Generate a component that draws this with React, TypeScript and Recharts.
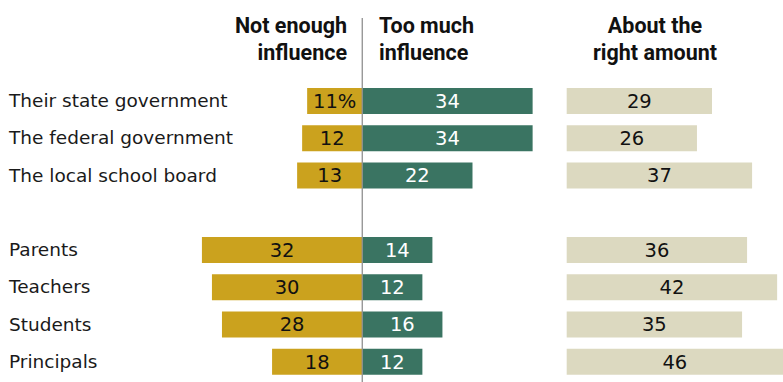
import React from "react";
import { BarChart, Bar, XAxis, YAxis, LabelList, ReferenceLine } from "recharts";

const categories = [
  "Their state government",
  "The federal government",
  "The local school board",
  "",
  "Parents",
  "Teachers",
  "Students",
  "Principals",
];
const notEnough: (number | null)[] = [11, 12, 13, null, 32, 30, 28, 18];
const tooMuch: (number | null)[] = [34, 34, 22, null, 14, 12, 16, 12];
const aboutRight: (number | null)[] = [29, 26, 37, null, 36, 42, 35, 46];

const headers = {
  notEnough: ["Not enough", "influence"],
  tooMuch: ["Too much", "influence"],
  aboutRight: ["About the", "right amount"],
};

const RIGHT_OFFSET = 40.8;

const data = categories.map((cat, i) => {
  const ne = notEnough[i];
  const tm = tooMuch[i];
  const ar = aboutRight[i];
  return {
    cat,
    ne: ne == null ? null : -ne,
    neLabel: ne == null ? "" : `${ne}${i === 0 ? "%" : ""}`,
    tm,
    spacer: tm == null ? null : RIGHT_OFFSET - tm,
    ar,
  };
});

const GOLD = "#CBA21E";
const GREEN = "#3A7462";
const BEIGE = "#DCD9C0";
const NUM_FONT = "'DejaVu Sans', Verdana, sans-serif";
const HEAD_FONT = "Roboto, 'Liberation Sans', Arial, sans-serif";

const renderCategoryTick = (props: any) => {
  const { y, payload } = props;
  return (
    <text
      key={`t-${payload.value}-${y}`}
      x={9}
      y={y}
      dy={6.5}
      textAnchor="start"
      fontFamily={NUM_FONT}
      fontSize={18.5}
      fill="#1a1a1a"
    >
      {payload.value}
    </text>
  );
};

const CenterLine = (props: any) => {
  const x = props.x1 ?? props.x;
  return <line x1={x} x2={x} y1={18} y2={382} stroke="#8f8f8f" strokeWidth={1.3} />;
};

export default function App() {
  const headStyle = {
    fontFamily: HEAD_FONT,
    fontWeight: 700,
    fontSize: 21.5,
    fill: "#111",
  } as const;
  return (
    <div style={{ position: "absolute", left: 0, top: 0, width: 783, height: 382, background: "#fff", overflow: "hidden" }}>
      <BarChart
        width={783}
        height={382}
        data={data}
        layout="vertical"
        stackOffset="sign"
        barSize={26}
        margin={{ top: 82, right: 0, bottom: 2, left: 0 }}
      >
        <XAxis type="number" hide domain={[-72.1, 83.97]} allowDataOverflow />
        <YAxis
          type="category"
          dataKey="cat"
          width={1}
          axisLine={false}
          tickLine={false}
          tick={renderCategoryTick}
          interval={0}
        />
        <Bar dataKey="ne" stackId="s" fill={GOLD} isAnimationActive={false}>
          <LabelList dataKey="neLabel" position="center" fill="#111" fontFamily={NUM_FONT} fontSize={19.5} />
        </Bar>
        <Bar dataKey="tm" stackId="s" fill={GREEN} isAnimationActive={false}>
          <LabelList dataKey="tm" position="center" fill="#fff" fontFamily={NUM_FONT} fontSize={19.5} />
        </Bar>
        <Bar dataKey="spacer" stackId="s" fill="transparent" isAnimationActive={false} />
        <Bar dataKey="ar" stackId="s" fill={BEIGE} isAnimationActive={false}>
          <LabelList dataKey="ar" position="center" fill="#111" fontFamily={NUM_FONT} fontSize={19.5} />
        </Bar>
        <ReferenceLine x={0} shape={<CenterLine />} ifOverflow="visible" />
      </BarChart>
      <svg
        width={783}
        height={80}
        style={{ position: "absolute", left: 0, top: 0, pointerEvents: "none" }}
      >
        <text x={347} y={33} textAnchor="end" {...headStyle}>{headers.notEnough[0]}</text>
        <text x={347} y={60} textAnchor="end" {...headStyle}>{headers.notEnough[1]}</text>
        <text x={379} y={33} textAnchor="start" {...headStyle}>{headers.tooMuch[0]}</text>
        <text x={379} y={60} textAnchor="start" {...headStyle}>{headers.tooMuch[1]}</text>
        <text x={655} y={33} textAnchor="middle" {...headStyle}>{headers.aboutRight[0]}</text>
        <text x={655} y={60} textAnchor="middle" {...headStyle}>{headers.aboutRight[1]}</text>
      </svg>
    </div>
  );
}
